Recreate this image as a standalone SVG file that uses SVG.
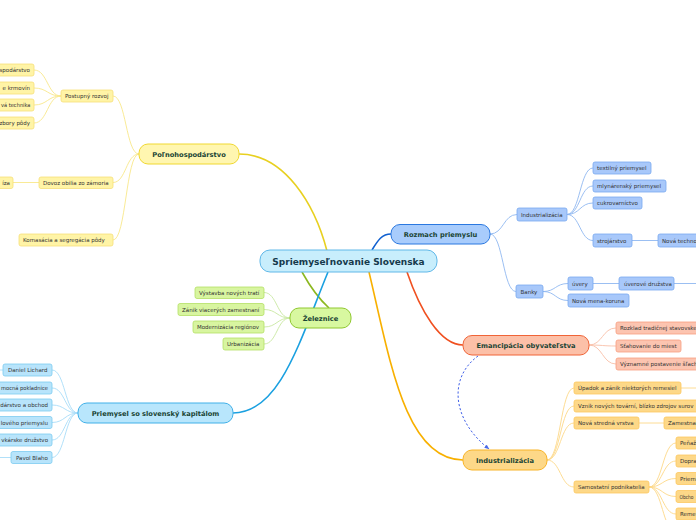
<svg xmlns="http://www.w3.org/2000/svg" width="696" height="520" viewBox="0 0 696 520">
<defs>
<style>
.t{font-family:"DejaVu Sans",Verdana,sans-serif;font-size:5.5px;fill:#333}
.m{font-family:"DejaVu Sans",Verdana,sans-serif;font-size:6.7px;font-weight:bold;fill:#1b4535;text-anchor:middle}
.c{font-family:"DejaVu Sans",Verdana,sans-serif;font-size:9px;font-weight:bold;fill:#163a4c;text-anchor:middle}
.e{text-anchor:end}
.y rect{fill:#fff4a6;stroke:#f6e07a;stroke-width:0.8}
.g rect{fill:#d8f5a0;stroke:#b4e064;stroke-width:0.8}
.lb rect{fill:#b8e4fb;stroke:#7ccbf0;stroke-width:0.8}
.b rect{fill:#a8c8fa;stroke:#78a8f0;stroke-width:0.8}
.s rect{fill:#fcc4b0;stroke:#f8a080;stroke-width:0.8}
.o rect{fill:#fdd888;stroke:#fcc860;stroke-width:0.8}
path{fill:none}
.cy{stroke:#f8e88a;stroke-width:0.9}
.cg{stroke:#c8e8a0;stroke-width:0.9}
.clb{stroke:#a8dcf8;stroke-width:0.9}
.cb{stroke:#90b8f0;stroke-width:0.9}
.cs{stroke:#f8c0a8;stroke-width:0.9}
.co{stroke:#fdd888;stroke-width:0.9}
</style>
<marker id="ah" viewBox="0 0 10 10" refX="9" refY="5" markerWidth="5" markerHeight="5" orient="auto">
<path d="M0,1 L10,5 L0,9 z" style="fill:#4a6ae8;stroke:none"/>
</marker>
</defs>
<rect width="696" height="520" fill="#ffffff"/>

<g id="connectors">
<path d="M327,251 C315,205 285,154 239,154" stroke="#e8d020" stroke-width="1.6"/>
<path d="M302,272 C312,290 320,300 329,308" stroke="#8cb820" stroke-width="1.6"/>
<path d="M328,272 C300,340 280,413 233,413" stroke="#1aa0e0" stroke-width="1.6"/>
<path d="M372,250 C378,240 382,234 391,234" stroke="#1060d0" stroke-width="1.6"/>
<path d="M407,272 C420,310 440,345 463,345" stroke="#f05020" stroke-width="1.6"/>
<path d="M369,272 C390,360 405,460 463,460" stroke="#f8b000" stroke-width="1.6"/>
<path d="M478,356 C448,378 452,420 489,449" stroke="#4060e8" stroke-width="1" stroke-dasharray="2.2 2" marker-end="url(#ah)"/>
<path class="cy" d="M139,154 C126,154 126,96 113,96"/>
<path class="cy" d="M139,154 C126,154 126,182.5 113,182.5"/>
<path class="cy" d="M139,154 C126,154 126,240 113,240"/>
<path class="cy" d="M61,96 C47.5,96 47.5,70 34,70"/>
<path class="cy" d="M61,96 C47.5,96 47.5,88 34,88"/>
<path class="cy" d="M61,96 C47.5,96 47.5,105 34,105"/>
<path class="cy" d="M61,96 C47.5,96 47.5,123 34,123"/>
<path class="cy" d="M39,182.5 L13,182.5"/>
<path class="cg" d="M290,318 C277,318 277,292.5 264,292.5"/>
<path class="cg" d="M290,318 C277,318 277,309.5 264,309.5"/>
<path class="cg" d="M290,318 C277,318 277,327 264,327"/>
<path class="cg" d="M290,318 C277,318 277,344 264,344"/>
<path class="clb" d="M78,413 C65,413 65,370 52,370"/>
<path class="clb" d="M78,413 C65,413 65,388 52,388"/>
<path class="clb" d="M78,413 C65,413 65,405 52,405"/>
<path class="clb" d="M78,413 C65,413 65,422.5 52,422.5"/>
<path class="clb" d="M78,413 C65,413 65,440 52,440"/>
<path class="clb" d="M78,413 C65,413 65,457.5 52,457.5"/>
<path class="clb" d="M3,370 L0,370"/>
<path class="clb" d="M11,457.5 L0,457.5"/>
<path class="cb" d="M490,234 C503.5,234 503.5,214.5 517,214.5"/>
<path class="cb" d="M490,234 C503,234 503,291.5 516,291.5"/>
<path class="cb" d="M567,214.5 C580,214.5 580,168 593,168"/>
<path class="cb" d="M567,214.5 C580,214.5 580,186 593,186"/>
<path class="cb" d="M567,214.5 C580,214.5 580,203 593,203"/>
<path class="cb" d="M567,214.5 C580,214.5 580,240.5 593,240.5"/>
<path class="cb" d="M632,240.5 L658,240.5"/>
<path class="cb" d="M543,291.5 C555.5,291.5 555.5,283.5 568,283.5"/>
<path class="cb" d="M543,291.5 C555.5,291.5 555.5,300.5 568,300.5"/>
<path class="cb" d="M593,283.5 L619,283.5"/>
<path class="cb" d="M674,283.5 L700,283.5"/>
<path class="cs" d="M589,345 C602.5,345 602.5,328 616,328"/>
<path class="cs" d="M589,345 C602.5,345 602.5,346 616,346"/>
<path class="cs" d="M589,345 C602.5,345 602.5,364 616,364"/>
<path class="co" d="M547,460 C560.5,460 560.5,388 574,388"/>
<path class="co" d="M547,460 C560.5,460 560.5,406 574,406"/>
<path class="co" d="M547,460 C560.5,460 560.5,423 574,423"/>
<path class="co" d="M547,460 C560.5,460 560.5,487 574,487"/>
<path class="co" d="M681,388 L700,388"/>
<path class="co" d="M639,423 L664,423"/>
<path class="co" d="M649,487 C662.5,487 662.5,443 676,443"/>
<path class="co" d="M649,487 C662.5,487 662.5,461 676,461"/>
<path class="co" d="M649,487 C662.5,487 662.5,478.5 676,478.5"/>
<path class="co" d="M649,487 C662.5,487 662.5,496.5 676,496.5"/>
<path class="co" d="M649,487 C662.5,487 662.5,514 676,514"/>
<path class="co" d="M649,487 C662.5,487 662.5,532 676,532"/>
</g>

<g id="center">
<rect x="260" y="250" width="177" height="22" rx="10" fill="#c8eefc" stroke="#60b8e8" stroke-width="1"/>
<text class="c" x="348.5" y="264.5">Spriemyseľnovanie Slovenska</text>
</g>

<g id="polnohospodarstvo">
<rect x="139" y="144" width="100" height="20" rx="9" fill="#fff6b0" stroke="#f0d830" stroke-width="1"/>
<text class="m" x="189" y="156.5">Poľnohospodárstvo</text>
</g>
<g id="postupny" class="y"><rect x="61" y="90" width="52" height="12" rx="2"/><text class="t" x="65" y="98">Postupný rozvoj</text></g>
<g id="p1" class="y"><rect x="-10" y="64" width="44" height="12" rx="2"/><text class="t e" x="30" y="72">spodárstvo</text></g>
<g id="p2" class="y"><rect x="-10" y="82" width="44" height="12" rx="2"/><text class="t e" x="30" y="90">e krmovín</text></g>
<g id="p3" class="y"><rect x="-10" y="99" width="44" height="12" rx="2"/><text class="t" x="1" y="107" textLength="29.5" lengthAdjust="spacingAndGlyphs">vá technika</text></g>
<g id="p4" class="y"><rect x="-10" y="117" width="44" height="12" rx="2"/><text class="t e" x="30" y="125">zbory pôdy</text></g>
<g id="dovoz" class="y"><rect x="39" y="177" width="74" height="11.5" rx="2"/><text class="t" x="43" y="185">Dovoz obilia zo zámoria</text></g>
<g id="kriza" class="y"><rect x="-10" y="177" width="23" height="11.5" rx="2"/><text class="t e" x="10" y="185">íza</text></g>
<g id="komasacia" class="y"><rect x="19" y="234" width="94" height="12" rx="2"/><text class="t" x="23" y="242">Komasácia a segregácia pôdy</text></g>

<g id="zeleznice">
<rect x="290" y="308" width="61" height="20" rx="9" fill="#d8f8a0" stroke="#90c830" stroke-width="1"/>
<text class="m" x="320.5" y="320.5">Železnice</text>
</g>
<g id="z1" class="g"><rect x="195" y="287" width="69" height="11.5" rx="2"/><text class="t" x="199" y="295">Výstavba nových tratí</text></g>
<g id="z2" class="g"><rect x="178" y="303.5" width="86" height="12" rx="2"/><text class="t" x="182" y="311.5">Zánik viacerých zamestnaní</text></g>
<g id="z3" class="g"><rect x="193" y="321" width="71" height="12" rx="2"/><text class="t" x="197" y="329">Modernizácia regiónov</text></g>
<g id="z4" class="g"><rect x="223" y="338" width="41" height="12" rx="2"/><text class="t" x="227" y="346">Urbanizácia</text></g>

<g id="priemysel">
<rect x="78" y="403" width="155" height="20" rx="9" fill="#b8e6fc" stroke="#40b0e8" stroke-width="1"/>
<text class="m" x="155.5" y="415.5">Priemysel so slovenský kapitálom</text>
</g>
<g id="k1" class="lb"><rect x="3" y="364" width="49" height="12" rx="2"/><text class="t" x="8" y="372">Daniel Lichard</text></g>
<g id="k2" class="lb"><rect x="-10" y="382" width="62" height="12" rx="2"/><text class="t" x="1" y="390" textLength="47" lengthAdjust="spacingAndGlyphs">mocná pokladnice</text></g>
<g id="k3" class="lb"><rect x="-10" y="399" width="62" height="12" rx="2"/><text class="t e" x="48" y="407">dárstvo a obchod</text></g>
<g id="k4" class="lb"><rect x="-10" y="416.5" width="62" height="12" rx="2"/><text class="t e" x="48" y="424.5">lového priemyslu</text></g>
<g id="k5" class="lb"><rect x="-10" y="434" width="62" height="12" rx="2"/><text class="t e" x="48" y="442">vkárske družstvo</text></g>
<g id="k6" class="lb"><rect x="11" y="451.5" width="41" height="12" rx="2"/><text class="t" x="16" y="459.5">Pavol Blaho</text></g>

<g id="rozmach">
<rect x="391" y="224.5" width="99" height="19.5" rx="9" fill="#a8ccfc" stroke="#2a78e0" stroke-width="1"/>
<text class="m" x="440.5" y="236.5">Rozmach priemyslu</text>
</g>
<g id="r-ind" class="b"><rect x="517" y="208" width="50" height="13" rx="2"/><text class="t" x="521" y="216.5">Industrializácia</text></g>
<g id="r-banky" class="b"><rect x="516" y="285" width="27" height="13" rx="2"/><text class="t" x="520.5" y="293.5">Banky</text></g>
<g id="r1" class="b"><rect x="593" y="162" width="58" height="12" rx="2"/><text class="t" x="597" y="170">textilný priemysel</text></g>
<g id="r2" class="b"><rect x="593" y="180" width="73" height="12" rx="2"/><text class="t" x="597" y="188">mlynárenský priemysel</text></g>
<g id="r3" class="b"><rect x="593" y="197" width="49" height="12" rx="2"/><text class="t" x="597" y="205">cukrovarníctvo</text></g>
<g id="r4" class="b"><rect x="593" y="234" width="39" height="13" rx="2"/><text class="t" x="597" y="242.5">strojárstvo</text></g>
<g id="r5" class="b"><rect x="658" y="234" width="60" height="13" rx="2"/><text class="t" x="662" y="242.5">Nová techno</text></g>
<g id="r6" class="b"><rect x="568" y="277" width="25" height="13" rx="2"/><text class="t" x="572" y="285.5">úvery</text></g>
<g id="r7" class="b"><rect x="568" y="294" width="61" height="13" rx="2"/><text class="t" x="572" y="302.5">Nová mena-koruna</text></g>
<g id="r8" class="b"><rect x="619" y="277" width="55" height="13" rx="2"/><text class="t" x="624" y="285.5">úverové družstva</text></g>

<g id="emancipacia">
<rect x="463" y="335.5" width="126" height="19.5" rx="9" fill="#fcc0a8" stroke="#f06438" stroke-width="1"/>
<text class="m" x="526" y="347.5">Emancipácia obyvateľstva</text>
</g>
<g id="e1" class="s"><rect x="616" y="322" width="100" height="12" rx="2"/><text class="t" x="620" y="330">Rozklad tradičnej stavovske</text></g>
<g id="e2" class="s"><rect x="616" y="340" width="65" height="12" rx="2"/><text class="t" x="620" y="348">Sťahovanie do miest</text></g>
<g id="e3" class="s"><rect x="616" y="358" width="100" height="12" rx="2"/><text class="t" x="620" y="366">Významné postavenie šľach</text></g>

<g id="industrializacia">
<rect x="463" y="450" width="84" height="20" rx="9" fill="#fdd888" stroke="#f8b428" stroke-width="1"/>
<text class="m" x="505" y="462.5">Industrializácia</text>
</g>
<g id="i1" class="o"><rect x="574" y="382" width="107" height="12" rx="2"/><text class="t" x="578" y="390">Úpadok a zánik niektorých remesiel</text></g>
<g id="i2" class="o"><rect x="574" y="400" width="140" height="12" rx="2"/><text class="t" x="578" y="408">Vznik nových tovární, blízko zdrojov surov</text></g>
<g id="i3" class="o"><rect x="574" y="417" width="65" height="12" rx="2"/><text class="t" x="578" y="425">Nová stredná vrstva</text></g>
<g id="i4" class="o"><rect x="664" y="417" width="50" height="12" rx="2"/><text class="t" x="668" y="425">Zamestna</text></g>
<g id="i5" class="o"><rect x="574" y="481" width="75" height="12" rx="2"/><text class="t" x="578" y="489">Samostatní podnikatelia</text></g>
<g id="i6" class="o"><rect x="676" y="437" width="40" height="12" rx="2"/><text class="t" x="680" y="445">Peňaž</text></g>
<g id="i7" class="o"><rect x="676" y="455" width="40" height="12" rx="2"/><text class="t" x="680" y="463">Dopra</text></g>
<g id="i8" class="o"><rect x="676" y="472.5" width="40" height="12" rx="2"/><text class="t" x="680" y="480.5">Priem</text></g>
<g id="i9" class="o"><rect x="676" y="490.5" width="40" height="12" rx="2"/><text class="t" x="679.5" y="498.5" textLength="14" lengthAdjust="spacingAndGlyphs">Obcho</text></g>
<g id="i10" class="o"><rect x="676" y="508" width="40" height="12" rx="2"/><text class="t" x="680" y="516">Reme</text></g>
</svg>
